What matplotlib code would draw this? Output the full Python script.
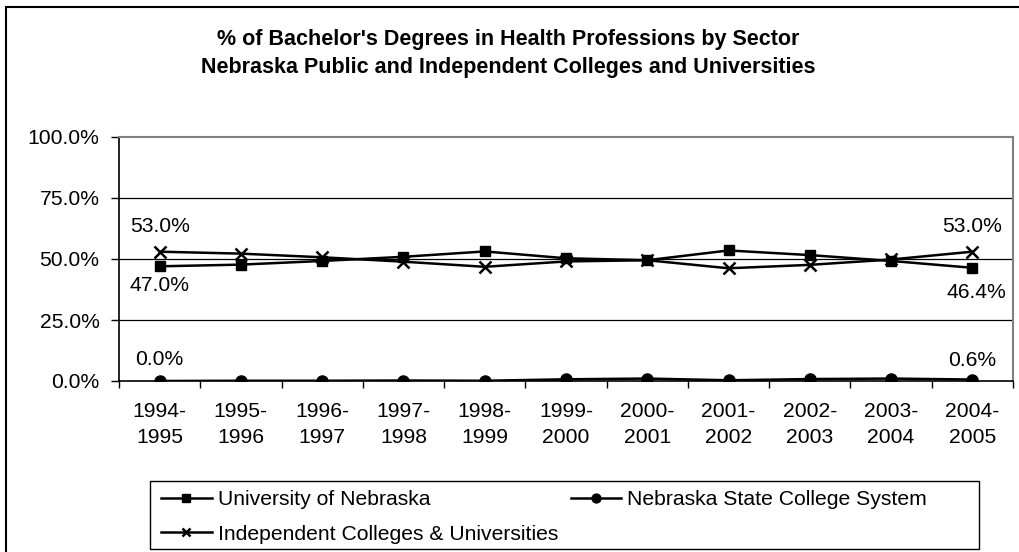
import numpy as np
import matplotlib.pyplot as plt
from matplotlib.patches import Rectangle

plt.rcParams['font.family'] = ['Liberation Sans', 'DejaVu Sans']

# values (percent)
years = ['1994-\n1995', '1995-\n1996', '1996-\n1997', '1997-\n1998', '1998-\n1999',
         '1999-\n2000', '2000-\n2001', '2001-\n2002', '2002-\n2003', '2003-\n2004',
         '2004-\n2005']
unl = [47.0, 47.7, 49.2, 50.9, 53.1, 50.3, 49.5, 53.5, 51.6, 49.2, 46.4]
nscs = [0.0, 0.1, 0.1, 0.2, 0.1, 0.7, 1.0, 0.3, 0.8, 1.0, 0.6]
indep = [53.0, 52.2, 50.7, 48.9, 46.8, 49.0, 49.5, 46.2, 47.6, 49.8, 53.0]
yticks = [0, 25, 50, 75, 100]

W, H = 1020, 552
FS = 15.2
fig = plt.figure(figsize=(W / 100, H / 100), dpi=100)
ax = fig.add_axes([119 / W, 1 - 381 / H, (1013 - 119) / W, (381 - 137) / H])

x = np.arange(len(years))
l1, = ax.plot(x, unl, color='black', lw=1.8, marker='s', ms=6.5, zorder=3)
l2, = ax.plot(x, nscs, color='black', lw=1.8, marker='o', ms=8, zorder=3)
l3, = ax.plot(x, indep, color='black', lw=1.8, marker='x', ms=8, mew=1.8, zorder=3)

ax.set_xlim(-0.5, len(years) - 0.5)
ax.set_ylim(0, 100)
ax.set_yticks(yticks)
ax.set_yticklabels(['%.1f%%' % v for v in yticks], fontsize=FS)
ax.set_xticks(np.arange(-0.5, len(years)), minor=False)
ax.set_xticklabels([])
ax.set_xticks(x, minor=True)
ax.set_xticklabels(years, minor=True, fontsize=FS, linespacing=1.5)
ax.tick_params(axis='x', which='major', direction='out', length=5, width=1)
ax.tick_params(axis='x', which='minor', length=0, pad=15)
ax.tick_params(axis='y', direction='out', length=6, width=1, pad=8)

for v in [25, 50, 75]:
    ax.axhline(v, color='black', lw=0.9, zorder=1)
for s in ['top', 'right']:
    ax.spines[s].set_color('#808080')
    ax.spines[s].set_linewidth(1.5)
for s in ['left', 'bottom']:
    ax.spines[s].set_linewidth(1.2)

# data labels at the ends
def lab(xi, yi, txt, dy, dx=0):
    ax.annotate(txt, (xi, yi), xytext=(dx, dy), textcoords='offset points',
                ha='center', va='center', fontsize=FS)

lab(0, indep[0], '53.0%', 18)
lab(0, unl[0], '47.0%', -14)
lab(0, nscs[0], '0.0%', 15.5)
lab(10, indep[10], '53.0%', 18)
lab(10, unl[10], '46.4%', -18, 3)
lab(10, nscs[10], '0.6%', 14)

fig.text(508 / W, 1 - 39 / H, "% of Bachelor's Degrees in Health Professions by Sector",
         ha='center', va='center', fontsize=15.5, fontweight='bold')
fig.text(508 / W, 1 - 67 / H, "Nebraska Public and Independent Colleges and Universities",
         ha='center', va='center', fontsize=15.5, fontweight='bold')

leg = fig.legend([l1, l3, l2], ['University of Nebraska', 'Independent Colleges & Universities',
                               'Nebraska State College System'],
                 ncol=2, loc='upper left', bbox_to_anchor=(161 / W, 1 - 490 / H),
                 frameon=False, fontsize=FS, handlelength=2.4, handletextpad=0.28,
                 columnspacing=0.6, labelspacing=0.75, markerscale=0.8,
                 borderaxespad=0, borderpad=0)
fig.patches.append(Rectangle((150 / W, 1 - 549 / H), (979 - 150) / W, (549 - 481) / H,
                             transform=fig.transFigure, fill=False, lw=1, ec='black'))
fig.patches.append(Rectangle((6 / W, -0.1), 1.2, 1 - 7 / H + 0.1,
                             transform=fig.transFigure, fill=False, lw=1.5, ec='black'))

fig.savefig('out.png', dpi=100)
